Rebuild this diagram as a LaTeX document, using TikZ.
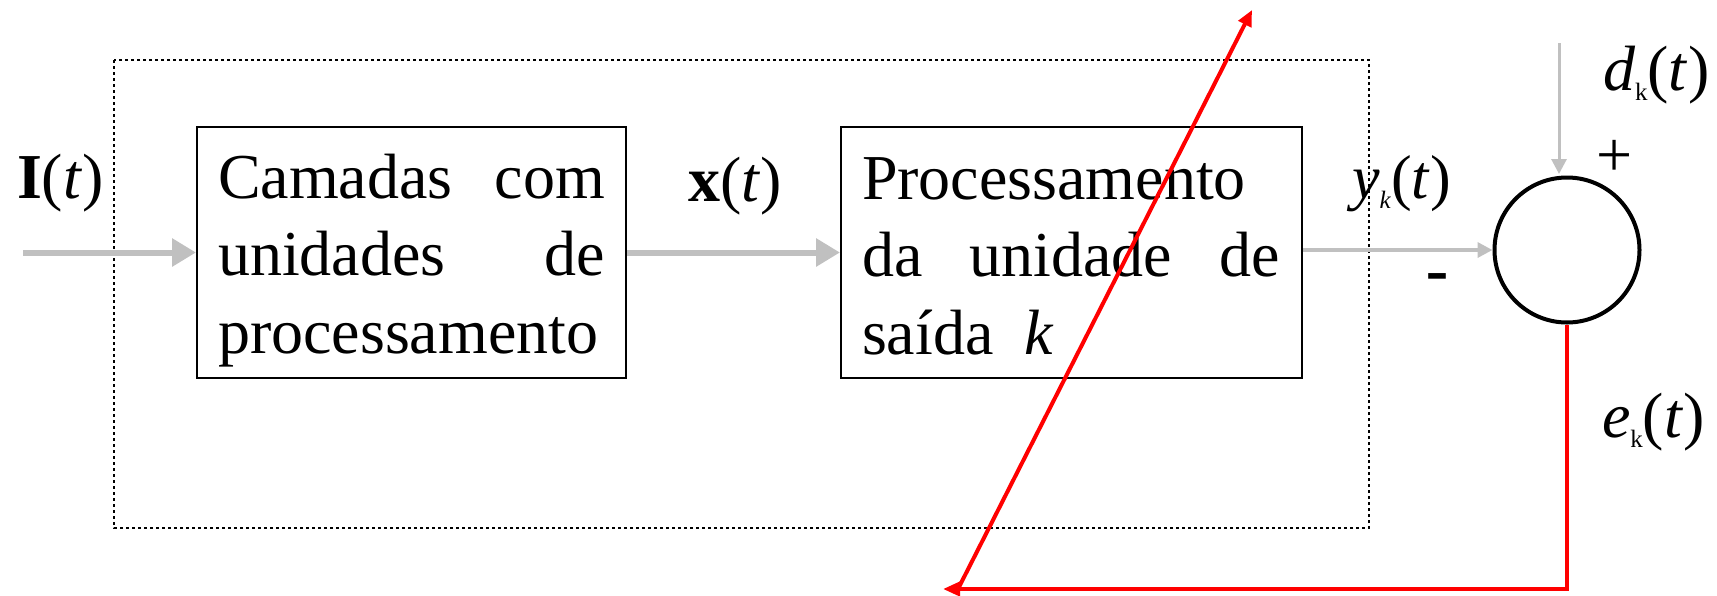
\documentclass[tikz,border=0pt]{standalone}
\usepackage{fontspec}
\setmainfont{Liberation Serif}
\newfontfamily\arialf{Liberation Sans}
\usetikzlibrary{arrows.meta,fit}
\definecolor{arrowgray}{RGB}{192,192,192}
\definecolor{fbred}{RGB}{255,0,0}
\begin{document}
\begin{tikzpicture}[x=1pt,y=-1pt,
  txt/.style={inner sep=0pt, outer sep=0pt, font=\fontsize{64}{77.5}\selectfont},
  txtsm/.style={inner sep=0pt, outer sep=0pt, font=\fontsize{62}{70}\selectfont},
  blk/.style={draw, line width=2pt, inner sep=0pt},
  garrow/.style={draw=arrowgray, line width=6pt, -{Triangle[length=24pt,width=27pt]}},
  gthin/.style={draw=arrowgray, line width=3.5pt, -{Triangle[length=15pt,width=15pt]}},
  rline/.style={draw=fbred, line width=4pt},
  sumst/.style={circle, draw, line width=4pt, minimum size=145pt, inner sep=0pt}]
\useasboundingbox (0,0) rectangle (1717,595);
% dotted frame
\draw[line width=2.5pt, dash pattern=on 3pt off 3pt] (114,60) rectangle (1369,528);
% box texts
\node[txt, anchor=base west, text width=387pt, align=left] (t1) at (218,198)
  {Camadas\hfill com\\unidades\hfill de\\processamento};
\node[txt, anchor=base west, text width=418pt, align=left] (t2) at (862,199)
  {Processamento\\da\hfill unidade\hfill de\\saída\hspace*{31pt}\textit{k}};
% boxes
\node[blk, fit={(197,127) (626,378)}] (b1) {};
\node[blk, fit={(841,127) (1302,378)}] (b2) {};
% summing junction
\node[sumst] (c) at (1567,250) {};
% labels
\node[txt, anchor=base west] (lI) at (17,198) {\textbf{I}(\textit{t})};
\node[txt, anchor=base west] (lx) at (688,201) {\textbf{x}(\textit{t})};
\node[txtsm, anchor=base west] (ly) at (1352,198)
  {\textit{y}\raisebox{-10pt}{\fontsize{25}{25}\selectfont\textit{k}}(\textit{t})};
\node[txt, anchor=base west] (ld) at (1603,90)
  {\textit{d}\raisebox{-10pt}{\fontsize{25}{25}\selectfont k}(\textit{t})};
\node[txt, anchor=base west] (le) at (1602,437)
  {\textit{e}\raisebox{-10pt}{\fontsize{25}{25}\selectfont k}(\textit{t})};
\node[txt] (lplus) at (1615,158) {+};
\node[inner sep=0pt, font=\arialf\fontsize{72}{72}\selectfont] (lminus) at (1437,284.5) {-};
% gray signal arrows
\coordinate (in) at (23,252.5);
\draw[garrow] (in) -- (b1.west);
\draw[garrow] (b1) -- (b2);
\draw[gthin] (b2.east |- c.west) -- (c.west);
\coordinate (dtop) at (1559,43);
\coordinate (dend) at (1559,174);
\draw[gthin, line width=3pt] (dtop) -- (dend);
% red error feedback
\coordinate (rbl) at (943,589);
\coordinate (rdiag) at (958,589);
\coordinate (rtr) at (1252,10);
\draw[rline, -{Triangle[length=17pt,width=14pt]}] (c.south) |- (rbl);
\draw[rline, -{Triangle[length=16pt,width=14pt]}] (rdiag) -- (rtr);
\end{tikzpicture}
\end{document}
